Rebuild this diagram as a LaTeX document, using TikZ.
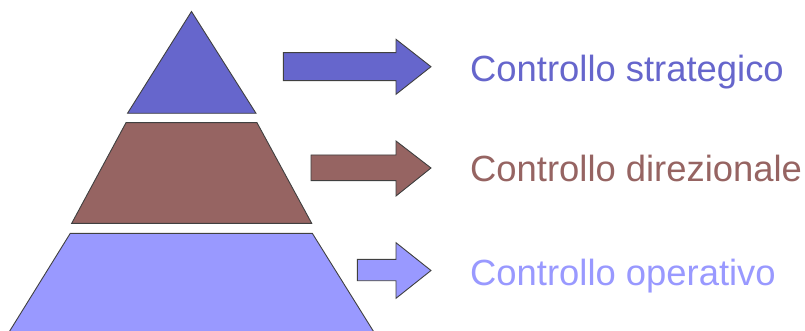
\documentclass[tikz,border=0pt]{standalone}
\usepackage{fontspec}
\setmainfont{Liberation Sans}
\definecolor{strat}{RGB}{102,102,204}
\definecolor{direz}{RGB}{150,100,98}
\definecolor{oper}{RGB}{153,153,255}
\begin{document}
\begin{tikzpicture}[x=1pt,y=-1pt,
  layer/.style={draw=black!75,line width=0.9pt,line join=miter},
  blockarrow/.style={draw=black!75,line width=0.9pt,line join=miter},
  label/.style={anchor=base west,inner sep=0pt,font=\fontsize{36.4}{40}\selectfont}]
  \useasboundingbox (0,0) rectangle (805,331);
  \clip (0,0) rectangle (805,331);
  % pyramid levels
  \fill[white] (0,0) rectangle (805,331);
  \draw[layer,fill=strat] (191.5,11.5) -- (256,113.3) -- (127.5,113.3) -- cycle;
  \draw[layer,fill=direz] (126,122.7) -- (257,122.7) -- (311.7,223.3) -- (71.7,223.3) -- cycle;
  \draw[layer,fill=oper] (70.3,233.3) -- (312.3,233.3) -- (377,337) -- (6,337) -- cycle;
  % block arrows
  \draw[blockarrow,fill=strat] (283.3,52.7) -- (396,52.7) -- (396,39.3) -- (431,66.7)
       -- (396,94.3) -- (396,80.7) -- (283.3,80.7) -- cycle;
  \draw[blockarrow,fill=direz] (311,155) -- (396,155) -- (396,141) -- (431,168)
       -- (396,196) -- (396,180.7) -- (311,180.7) -- cycle;
  \draw[blockarrow,fill=oper] (357.3,259.3) -- (396,259.3) -- (396,242.7) -- (431,270.5)
       -- (396,298.3) -- (396,280.7) -- (357.3,280.7) -- cycle;
  % level names
  \node[label,text=strat] (ls) at (470,81.7) {Controllo strategico};
  \node[label,text=direz] (ld) at (470,181.7) {Controllo direzionale};
  \node[label,text=oper]  (lo) at (470,285.5) {Controllo operativo};
\end{tikzpicture}
\end{document}
